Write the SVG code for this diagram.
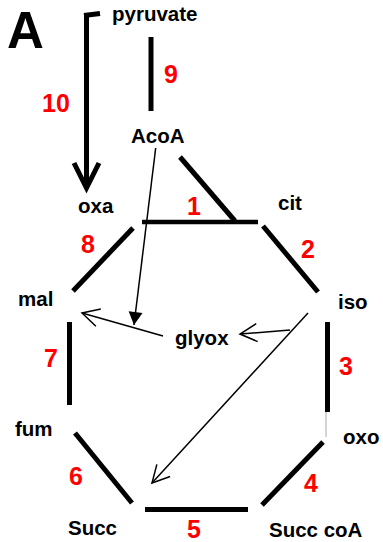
<svg xmlns="http://www.w3.org/2000/svg" width="383" height="542" viewBox="0 0 383 542">
<style>
.lbl{font-family:"Liberation Sans",Arial,sans-serif;font-weight:bold;font-size:20.5px;fill:#000}
.num{font-family:"Liberation Sans",Arial,sans-serif;font-weight:bold;font-size:25px;fill:#ff0000}
.big{font-family:"Liberation Sans",Arial,sans-serif;font-weight:bold;font-size:51px;fill:#000}
.thick{stroke:#000;stroke-width:5;fill:none;stroke-linecap:butt}
.thin{stroke:#000;stroke-width:1.5;fill:none}
</style>
<defs>
<marker id="open" viewBox="-20 -12 22 24" markerWidth="22" markerHeight="24" refX="0" refY="0" markerUnits="userSpaceOnUse" orient="auto" overflow="visible">
<path d="M-17,-9 L0,0 L-17,9" fill="none" stroke="#000" stroke-width="1.5"/>
</marker>
<marker id="solid" viewBox="-16 -9 17 18" markerWidth="17" markerHeight="18" refX="0" refY="0" markerUnits="userSpaceOnUse" orient="auto" overflow="visible">
<path d="M-13,-7 L0,0 L-13,7 Z" fill="#000"/>
</marker>
</defs>
<text class="big" x="7" y="48">A</text>
<g id="connectors">
<path class="thick" d="M100,13.5 L84,15.5"/>
<path class="thick" d="M86.5,13 L86.5,186"/>
<polyline class="thick" points="74,163 86.5,188 99,163" stroke-linejoin="miter"/>
<line class="thick" x1="151" y1="37" x2="151" y2="111"/>
<line class="thick" x1="180" y1="157" x2="235" y2="221"/>
<line class="thick" x1="142" y1="222" x2="258" y2="222" style="stroke-width:4.5"/>
<line class="thick" x1="263" y1="226" x2="318" y2="292"/>
<line class="thick" x1="133" y1="228" x2="73" y2="291"/>
<line class="thick" x1="69.5" y1="322" x2="69.5" y2="405"/>
<line class="thick" x1="327.5" y1="322" x2="327.5" y2="412"/>
<line x1="326" y1="412" x2="326" y2="437" stroke="#aaaaaa" stroke-width="1"/>
<line class="thick" x1="75" y1="433" x2="132" y2="503"/>
<line class="thick" x1="145" y1="509.5" x2="248" y2="509.5"/>
<line class="thick" x1="262" y1="505" x2="323" y2="442"/>
<line class="thin" x1="155.7" y1="148" x2="134" y2="325" marker-end="url(#solid)"/>
<line class="thin" x1="163" y1="336" x2="82" y2="313" marker-end="url(#open)"/>
<line class="thin" x1="290" y1="330" x2="240" y2="334" marker-end="url(#open)"/>
<line class="thin" x1="308" y1="313" x2="152" y2="483" marker-end="url(#open)"/>
</g>
<g id="pyruvate"><text class="lbl" x="112" y="21">pyruvate</text></g>
<g id="AcoA"><text class="lbl" x="131" y="143">AcoA</text></g>
<g id="oxa"><text class="lbl" x="78" y="213">oxa</text></g>
<g id="cit"><text class="lbl" x="278" y="210">cit</text></g>
<g id="mal"><text class="lbl" x="18" y="306">mal</text></g>
<g id="iso"><text class="lbl" x="338" y="309">iso</text></g>
<g id="glyox"><text class="lbl" x="175" y="345">glyox</text></g>
<g id="fum"><text class="lbl" x="15" y="436">fum</text></g>
<g id="oxo"><text class="lbl" x="343" y="444">oxo</text></g>
<g id="Succ"><text class="lbl" x="68" y="535">Succ</text></g>
<g id="SuccCoA"><text class="lbl" x="269" y="537">Succ coA</text></g>
<g id="numbers">
<text class="num" x="164" y="83">9</text>
<text class="num" x="42" y="112">10</text>
<text class="num" x="187" y="215">1</text>
<text class="num" x="301" y="258">2</text>
<text class="num" x="81" y="253">8</text>
<text class="num" x="44" y="367">7</text>
<text class="num" x="339" y="375">3</text>
<text class="num" x="69" y="485">6</text>
<text class="num" x="187" y="538">5</text>
<text class="num" x="304" y="492">4</text>
</g>
</svg>
